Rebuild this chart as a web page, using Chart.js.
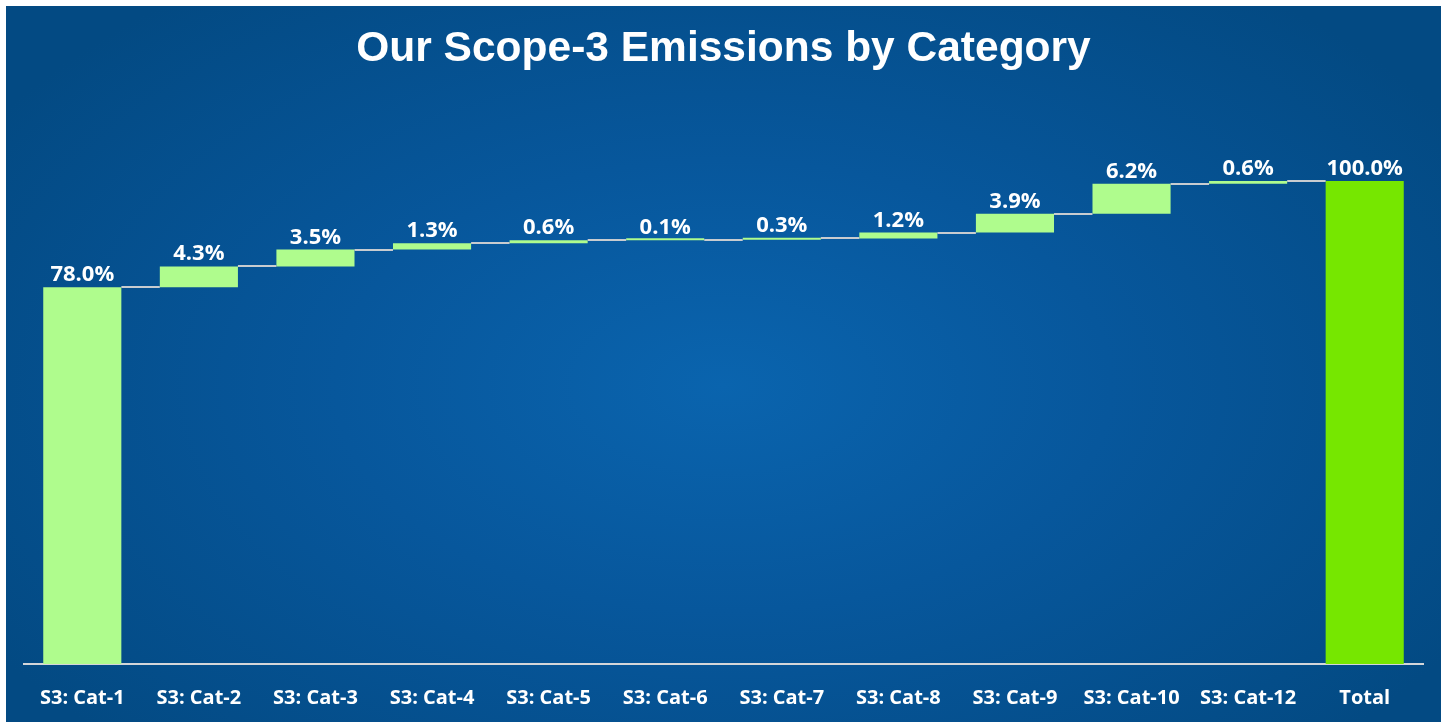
<!DOCTYPE html>
<html>
<head>
<meta charset="utf-8">
<script src="https://cdn.jsdelivr.net/npm/chart.js@4.4.1/dist/chart.umd.min.js"></script>
<style>
  html, body { margin: 0; padding: 0; background: #ffffff; overflow: hidden; }
  #panel {
    position: absolute; left: 6px; top: 6px; width: 1435px; height: 716px; overflow: hidden;
    background: radial-gradient(ellipse 60% 70% at 50% 53%, #0a64ae 0%, #07579c 45%, #034a83 100%);
  }
  #panel canvas { display: block; }
</style>
</head>
<body>
<div id="panel"><canvas id="c" width="1435" height="740"></canvas></div>
<script>
const categories = ["S3: Cat-1","S3: Cat-2","S3: Cat-3","S3: Cat-4","S3: Cat-5","S3: Cat-6","S3: Cat-7","S3: Cat-8","S3: Cat-9","S3: Cat-10","S3: Cat-12","Total"];
const stepValues = [78.0, 4.3, 3.5, 1.3, 0.6, 0.1, 0.3, 1.2, 3.9, 6.2, 0.6];
const totalValue = 100.0;
const titleText = "Our Scope-3 Emissions by Category";

// build floating ranges
const ranges = [];
const labelsText = [];
let run = 0;
stepValues.forEach(v => {
  ranges.push([run, run + v]);
  labelsText.push(v.toFixed(1) + "%");
  run += v;
});
ranges.push([0, totalValue]);
labelsText.push(totalValue.toFixed(1) + "%");

const barColors = categories.map((c, i) => i === categories.length - 1 ? "#76e700" : "#affc8d");

const waterfallPlugin = {
  id: "waterfallExtras",
  afterDatasetsDraw(chart) {
    const ctx = chart.ctx;
    const meta = chart.getDatasetMeta(0);
    const y = chart.scales.y;
    ctx.save();
    // connectors
    ctx.strokeStyle = "#c8ccd0";
    ctx.lineWidth = 2;
    for (let i = 0; i < meta.data.length - 1; i++) {
      const a = meta.data[i], b = meta.data[i + 1];
      const level = ranges[i][1];
      const yy = Math.round(y.getPixelForValue(level));
      ctx.beginPath();
      ctx.moveTo(a.x + a.width / 2, yy);
      ctx.lineTo(b.x - b.width / 2, yy);
      ctx.stroke();
    }
    // labels
    ctx.fillStyle = "#ffffff";
    ctx.font = "bold 22px 'Open Sans', 'Noto Sans', sans-serif";
    ctx.textAlign = "center";
    ctx.textBaseline = "alphabetic";
    meta.data.forEach((bar, i) => {
      const top = y.getPixelForValue(Math.max(ranges[i][0], ranges[i][1]));
      ctx.fillText(labelsText[i], bar.x, top - 6);
    });
    ctx.restore();
  }
};

new Chart(document.getElementById("c"), {
  type: "bar",
  data: {
    labels: categories,
    datasets: [{
      data: ranges,
      backgroundColor: barColors,
      borderWidth: 0,
      minBarLength: 2,
      categoryPercentage: 1.0,
      barPercentage: 0.67
    }]
  },
  options: {
    responsive: false,
    animation: false,
    events: [],
    layout: { padding: { left: 18, right: 18, top: 0, bottom: 14 } },
    plugins: {
      legend: { display: false },
      tooltip: { enabled: false },
      title: {
        display: true,
        text: titleText,
        color: "#ffffff",
        font: { family: "'Liberation Sans', Arial, sans-serif", size: 42.5, weight: "bold" },
        padding: { top: 18, bottom: 57.6 }
      }
    },
    scales: {
      x: {
        grid: { display: false, drawTicks: false },
        border: { display: true, color: "#d4d6d9", width: 2 },
        ticks: {
          color: "#ffffff",
          padding: 22,
          font: { family: "'Open Sans', 'Noto Sans', sans-serif", size: 20, weight: "bold" }
        }
      },
      y: {
        display: false,
        min: 0,
        max: 110
      }
    }
  },
  plugins: [waterfallPlugin]
});
</script>
</body>
</html>
